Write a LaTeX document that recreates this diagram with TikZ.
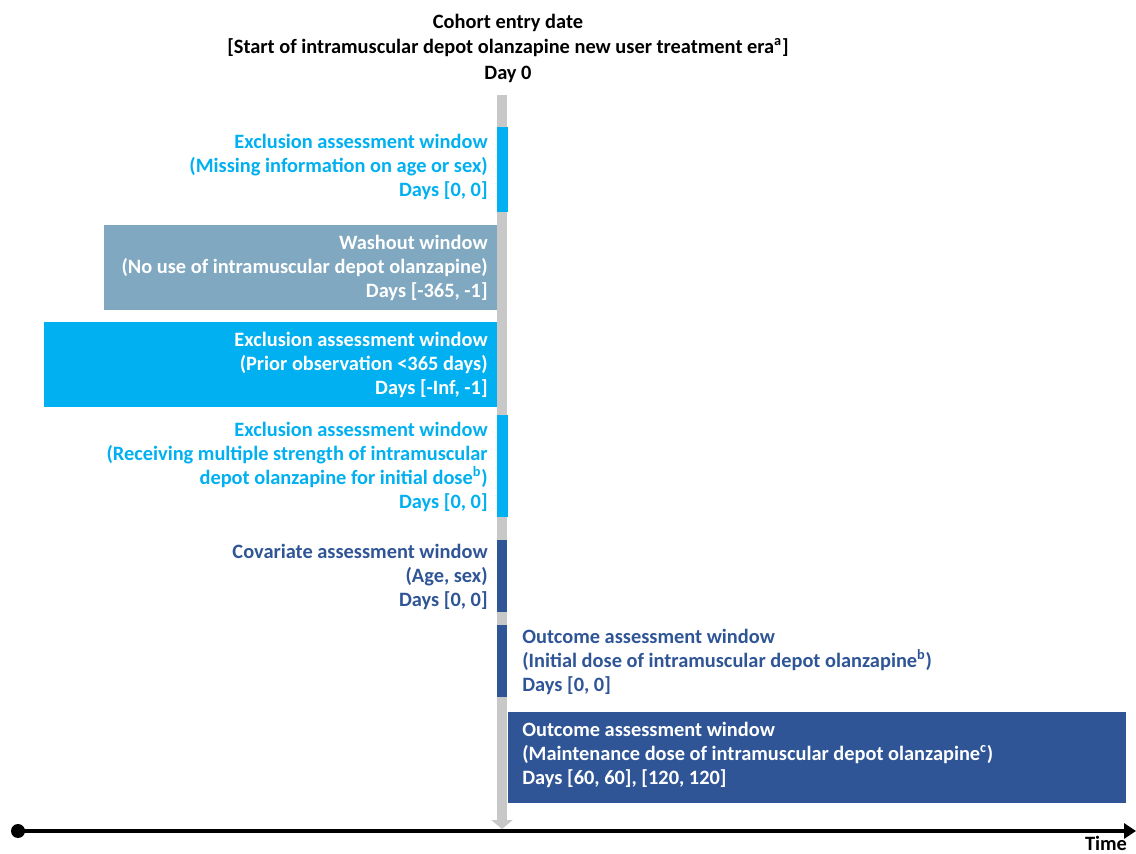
\documentclass[tikz,border=0pt]{standalone}
\usepackage{fontspec}
\setmainfont{Carlito}
\usetikzlibrary{arrows.meta}
\definecolor{cyanwin}{RGB}{0,176,240}
\definecolor{washwin}{RGB}{128,168,192}
\definecolor{darkwin}{RGB}{47,85,151}
\definecolor{dayline}{RGB}{200,200,200}

\begin{document}
\begin{tikzpicture}[x=0.02cm, y=-0.02cm, every node/.style={font=\fontsize{11.6}{13.6}\selectfont\bfseries, inner sep=0pt}]
	\useasboundingbox (0,0) rectangle (1136,854);
	% day 0 line
	\coordinate (daytop) at (502,95);
	\coordinate (daybot) at (502,829);
	\draw[dayline, line width=6.2pt, -{Triangle[length=0.18cm, width=0.42cm]}] (daytop) -- (daybot);
	\node[align=center, font=\fontsize{11.6}{14.5}\selectfont\bfseries] (entry) at (508,48) {Cohort entry date\\{}[Start of intramuscular depot olanzapine new user treatment era\textsuperscript{a}]\\Day 0};
	% windows
	\fill[cyanwin] (497,127) rectangle (508,212);
	\fill[washwin] (104,225) rectangle (497,310);
	\fill[cyanwin] (44,322) rectangle (497,407);
	\fill[cyanwin] (497,415) rectangle (508,517);
	\fill[darkwin] (497,540) rectangle (507,612);
	\fill[darkwin] (497,625) rectangle (507,697);
	\fill[darkwin] (508,712) rectangle (1126,803);
	\node[anchor=east, align=right, text=cyanwin] (excl1) at (488,167) {Exclusion assessment window\\(Missing information on age or sex)\\Days [0, 0]};
	\node[anchor=east, align=right, text=white] (wash) at (488,268) {Washout window\\(No use of intramuscular depot olanzapine)\\Days [-365, -1]};
	\node[anchor=east, align=right, text=white] (excl2) at (488,365) {Exclusion assessment window\\(Prior observation <365 days)\\Days [-Inf, -1]};
	\node[anchor=east, align=right, text=cyanwin] (excl3) at (488,467) {Exclusion assessment window\\(Receiving multiple strength of intramuscular\\depot olanzapine for initial dose\textsuperscript{b})\\Days [0, 0]};
	\node[anchor=east, align=right, text=darkwin] (cov) at (488,577) {Covariate assessment window\\(Age, sex)\\Days [0, 0]};
	\node[anchor=west, align=left, text=darkwin] (out1) at (522,662) {Outcome assessment window\\(Initial dose of intramuscular depot olanzapine\textsuperscript{b})\\Days [0, 0]};
	\node[anchor=west, align=left, text=white] (out2) at (522,755) {Outcome assessment window\\(Maintenance dose of intramuscular depot olanzapine\textsuperscript{c})\\Days [60, 60], [120, 120]};
	% time axis
	\node[circle, fill=black, minimum size=0.28cm] (t0) at (18,831) {};
	\coordinate (tend) at (1136,831);
	\draw[line width=1.8pt, -{Triangle[length=0.24cm, width=0.3cm]}] (t0.center) -- (tend);
	\node[anchor=south] (time) at (1106,851) {Time};
\end{tikzpicture}
\end{document}
